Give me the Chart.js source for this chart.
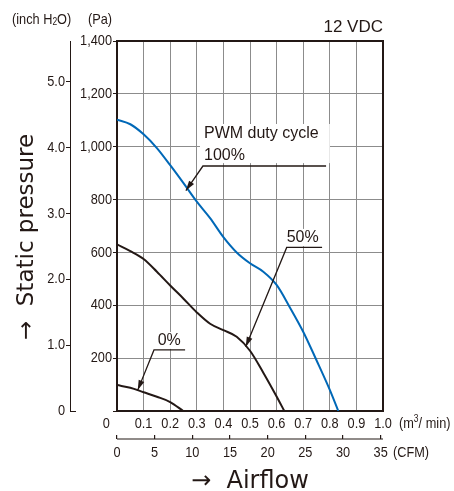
<!DOCTYPE html>
<html><head><meta charset="utf-8">
<script src="https://cdn.jsdelivr.net/npm/chart.js@4/dist/chart.umd.min.js"></script>
<style>html,body{margin:0;padding:0;background:#fff;overflow:hidden}</style>
</head><body>
<canvas id="c" width="454" height="491"></canvas>
<script>
// ---- data ----
const flowTicks = [0, 0.1, 0.2, 0.3, 0.4, 0.5, 0.6, 0.7, 0.8, 0.9, 1.0];      // m3/min
const pressureTicks = [0, 200, 400, 600, 800, 1000, 1200, 1400];               // Pa
const inchTicks = [0, 1, 2, 3, 4, 5];                                           // inch H2O
const cfmTicks = [0, 5, 10, 15, 20, 25, 30, 35];                                // CFM

const flow100 = [0, 0.05, 0.1, 0.15, 0.2, 0.25, 0.3, 0.35, 0.4, 0.45, 0.5, 0.55, 0.6, 0.65, 0.7, 0.75, 0.8, 0.832];
const pres100 = [1102, 1085, 1047, 995, 930, 862, 792, 730, 658, 600, 559, 527, 477, 392, 300, 192, 80, 0];

const flow50 = [0, 0.05, 0.1, 0.15, 0.2, 0.25, 0.3, 0.35, 0.4, 0.45, 0.5, 0.55, 0.6, 0.629];
const pres50 = [630, 605, 575, 527, 475, 425, 373, 330, 306, 281, 228, 145, 55, 0];

const flow0 = [0, 0.05, 0.1, 0.15, 0.2, 0.249];
const pres0 = [98, 88, 71, 54, 34, 0];

const seriesNames = ['100%', '50%', '0%'];

const PA_PER_INCH = 249.089;
const CFM_PER_M3MIN = 35.3147;

const INK = '#231815';
const BLUE = '#0068b7';
const GRID = '#8c8c8c';
// condensed look: text whose font names "NarrowCond" is drawn horizontally squeezed
const SQUEEZE = 0.85;
const NARROW = "NarrowCond, 'Liberation Sans', Arial, sans-serif";
const SANS = "'Liberation Sans', Arial, Helvetica, sans-serif";
const WIDE = "'DejaVu Sans', sans-serif";

(function () {
  const proto = CanvasRenderingContext2D.prototype;
  const oFill = proto.fillText, oMeasure = proto.measureText;
  proto.fillText = function (text, x, y, maxWidth) {
    if (String(this.font).indexOf('NarrowCond') >= 0) {
      this.save();
      this.translate(x, y);
      this.scale(SQUEEZE, 1);
      if (maxWidth === undefined) oFill.call(this, text, 0, 0);
      else oFill.call(this, text, 0, 0, maxWidth / SQUEEZE);
      this.restore();
    } else if (maxWidth === undefined) oFill.call(this, text, x, y);
    else oFill.call(this, text, x, y, maxWidth);
  };
  proto.measureText = function (text) {
    const m = oMeasure.call(this, text);
    if (String(this.font).indexOf('NarrowCond') >= 0) {
      return {width: m.width * SQUEEZE,
        actualBoundingBoxAscent: m.actualBoundingBoxAscent,
        actualBoundingBoxDescent: m.actualBoundingBoxDescent,
        actualBoundingBoxLeft: m.actualBoundingBoxLeft * SQUEEZE,
        actualBoundingBoxRight: m.actualBoundingBoxRight * SQUEEZE};
    }
    return m;
  };
})();

const pts = (xs, ys) => xs.map((x, i) => ({x, y: ys[i]}));

function textRuns(ctx, x, y, parts) {
  for (const p of parts) {
    ctx.font = p.font;
    ctx.fillText(p.t, x, y + (p.dy || 0));
    x += ctx.measureText(p.t).width;
  }
}

function arrow(ctx, pts, color) {
  ctx.save();
  ctx.strokeStyle = color; ctx.fillStyle = color; ctx.lineWidth = 1.3;
  ctx.beginPath();
  ctx.moveTo(pts[0][0], pts[0][1]);
  for (let i = 1; i < pts.length; i++) ctx.lineTo(pts[i][0], pts[i][1]);
  ctx.stroke();
  const [ax, ay] = pts[pts.length - 2], [tx, ty] = pts[pts.length - 1];
  const ang = Math.atan2(ty - ay, tx - ax);
  const L = 10, W = 3;
  ctx.beginPath();
  ctx.moveTo(tx, ty);
  ctx.lineTo(tx - L * Math.cos(ang) + W * Math.sin(ang), ty - L * Math.sin(ang) - W * Math.cos(ang));
  ctx.lineTo(tx - L * Math.cos(ang) - W * Math.sin(ang), ty - L * Math.sin(ang) + W * Math.cos(ang));
  ctx.closePath();
  ctx.fill();
  ctx.restore();
}

const decor = {
  id: 'decor',
  beforeDatasetsDraw(chart) {
    const {ctx, chartArea: a} = chart;
    ctx.save();
    ctx.strokeStyle = INK; ctx.lineWidth = 2;
    ctx.strokeRect(a.left, a.top, a.right - a.left, a.bottom - a.top);
    ctx.restore();
  },
  afterDraw(chart) {
    const {ctx} = chart;
    const xs = chart.scales.x, ys = chart.scales.y, y2 = chart.scales.y2, x2 = chart.scales.x2;
    const X = v => xs.getPixelForValue(v), Y = v => ys.getPixelForValue(v);
    ctx.save();
    // annotations
    const notes = [
      {lines: ['PWM duty cycle', '100%'], tx: 0.327, ty: [1048, 965], box: [0.312, 0.80, 1086, 938],
       path: [[0.786, 927], [0.323, 927], [0.259, 834]]},
      {lines: ['50%'], tx: 0.638, ty: [655], box: [0.628, 0.771, 689, 624],
       path: [[0.771, 619], [0.638, 619], [0.484, 243]]},
      {lines: ['0%'], tx: 0.153, ty: [265], box: [0.143, 0.248, 299, 235],
       path: [[0.256, 231], [0.139, 231], [0.078, 79]]}
    ];
    for (const n of notes) {
      ctx.fillStyle = '#fff';
      ctx.fillRect(X(n.box[0]), Y(n.box[2]), X(n.box[1]) - X(n.box[0]), Y(n.box[3]) - Y(n.box[2]));
      ctx.fillStyle = INK; ctx.font = '16px ' + SANS; ctx.textBaseline = 'middle'; ctx.textAlign = 'left';
      n.lines.forEach((t, i) => ctx.fillText(t, X(n.tx), Y(n.ty[i])));
      arrow(ctx, n.path.map(p => [X(p[0]), Y(p[1])]), INK);
    }
    // header labels
    ctx.fillStyle = INK; ctx.textBaseline = 'middle';
    ctx.textAlign = 'left';
    textRuns(ctx, 12, 20, [
      {t: '(inch H', font: '15px ' + NARROW},
      {t: '2', font: '10px ' + NARROW, dy: 2},
      {t: 'O)', font: '15px ' + NARROW}
    ]);
    ctx.textAlign = 'right';
    ctx.font = '15px ' + NARROW;
    ctx.fillText('(Pa)', ys.left + 42, 20);
    ctx.font = '17px ' + SANS;
    ctx.fillText('12 VDC', chart.chartArea.right, 27);
    // unit labels
    ctx.textAlign = 'left';
    textRuns(ctx, chart.chartArea.right + 16, 424, [
      {t: '(m', font: '15px ' + NARROW},
      {t: '3', font: '10px ' + NARROW, dy: -5},
      {t: '/ min)', font: '15px ' + NARROW}
    ]);
    ctx.font = '15px ' + NARROW;
    ctx.fillText('(CFM)', chart.chartArea.right + 10, 453);
    // CFM axis line under its upward ticks
    ctx.strokeStyle = INK; ctx.lineWidth = 1.2;
    const ly = x2.top + 4;
    ctx.beginPath(); ctx.moveTo(x2.left, ly); ctx.lineTo(x2.right, ly); ctx.stroke();
    // inch axis zero tick (points right)
    const zy = Math.round(y2.getPixelForValue(0)) + 0.5;
    ctx.lineWidth = 1;
    ctx.beginPath(); ctx.moveTo(y2.right, zy); ctx.lineTo(y2.right + 6, zy); ctx.stroke();
    ctx.restore();
  }
};

new Chart(document.getElementById('c'), {
  type: 'line',
  data: {
    datasets: [
      {label: seriesNames[0], data: pts(flow100, pres100), borderColor: BLUE},
      {label: seriesNames[1], data: pts(flow50, pres50), borderColor: INK},
      {label: seriesNames[2], data: pts(flow0, pres0), borderColor: INK}
    ].map(d => Object.assign(d, {borderWidth: 2, pointRadius: 0, fill: false,
      cubicInterpolationMode: 'monotone', xAxisID: 'x', yAxisID: 'y'}))
  },
  options: {
    responsive: false, animation: false, devicePixelRatio: 1,
    layout: {padding: {top: 41, right: 71, bottom: 0, left: 0}},
    plugins: {legend: {display: false}, tooltip: {enabled: false}},
    scales: {
      x: {
        type: 'linear', position: 'bottom', weight: 0, min: 0, max: 1,
        afterBuildTicks: s => { s.ticks = flowTicks.map(v => ({value: v})); },
        afterFit: s => { s.height = 24; },
        grid: {color: GRID, lineWidth: 1, drawTicks: false},
        border: {display: false},
        ticks: {font: {family: NARROW, size: 15}, color: INK, padding: 4, maxRotation: 0, autoSkip: false,
          callback: v => v === 0 ? '0      ' : v.toFixed(1)}
      },
      x2: {
        type: 'linear', position: 'bottom', weight: 1, min: 0, max: CFM_PER_M3MIN,
        afterBuildTicks: s => { s.ticks = cfmTicks.map(v => ({value: v})); },
        afterFit: s => { s.height = 56; },
        grid: {drawOnChartArea: false, drawTicks: true, tickLength: 4, tickColor: INK, lineWidth: 1.2},
        border: {display: false},
        ticks: {font: {family: NARROW, size: 15}, color: INK, padding: 5, maxRotation: 0, autoSkip: false,
          callback: v => String(v)},
        title: {display: true, text: '→  Airflow', color: INK,
          font: {family: WIDE, size: 24, lineHeight: 1}, padding: {top: 0, bottom: -3}}
      },
      y: {
        type: 'linear', position: 'left', weight: 0, min: 0, max: 1400,
        afterBuildTicks: s => { s.ticks = pressureTicks.map(v => ({value: v})); },
        afterFit: s => { s.width = 47; },
        grid: {color: GRID, lineWidth: 1, drawTicks: true, tickLength: 4, tickColor: INK},
        border: {display: false},
        ticks: {font: {family: NARROW, size: 15}, color: INK, padding: 1,
          callback: v => v === 0 ? '' : v.toLocaleString('en-US')}
      },
      y2: {
        type: 'linear', position: 'left', weight: 1, min: 0, max: 1400 / PA_PER_INCH,
        afterBuildTicks: s => { s.ticks = inchTicks.map(v => ({value: v})); },
        afterFit: s => { s.width = 70; },
        grid: {drawOnChartArea: false, drawTicks: true, tickLength: 4,
          tickColor: c => (c.tick && c.tick.value === 0) ? 'rgba(0,0,0,0)' : INK},
        border: {display: true, color: INK, width: 1},
        ticks: {font: {family: NARROW, size: 15}, color: INK, padding: 1,
          callback: v => v === 0 ? '0' : v.toFixed(1)},
        title: {display: true, text: '→  Static pressure   ', color: INK,
          font: {family: WIDE, size: 23, lineHeight: 1}, padding: {top: 16, bottom: 0}}
      }
    }
  },
  plugins: [decor]
});
</script>
</body></html>
